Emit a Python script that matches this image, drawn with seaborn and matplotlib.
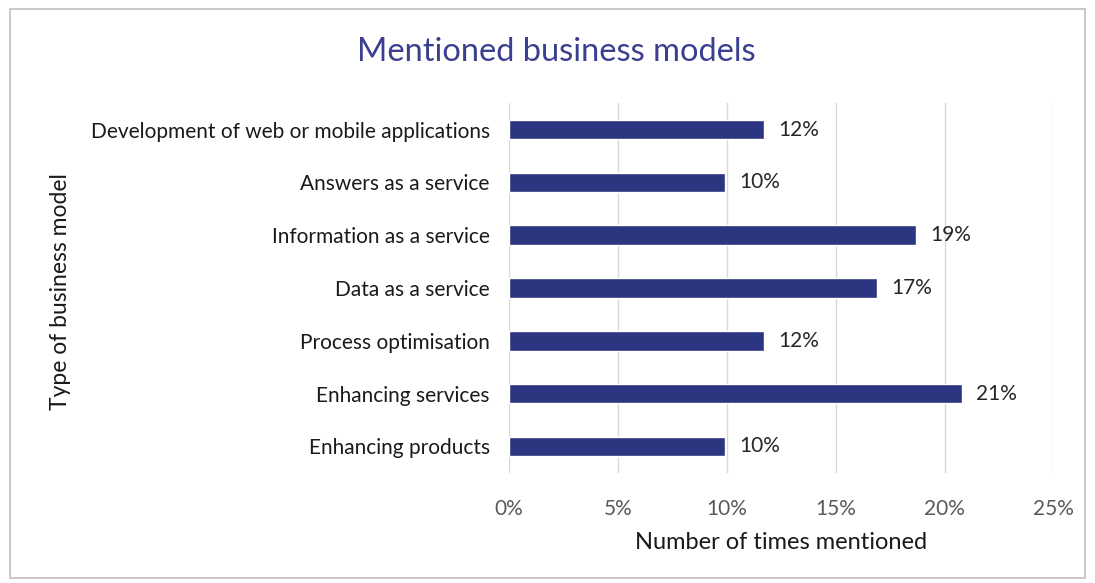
import matplotlib
matplotlib.use('Agg')
import matplotlib.pyplot as plt
import seaborn as sns
import pandas as pd
from matplotlib.patches import Rectangle
from matplotlib.ticker import PercentFormatter

# data (share of mentions, %)
models = ['Development of web or mobile applications', 'Answers as a service',
          'Information as a service', 'Data as a service', 'Process optimisation',
          'Enhancing services', 'Enhancing products']
shares = [11.7, 9.9, 18.7, 16.9, 11.7, 20.8, 9.9]

df = pd.DataFrame({'model': models, 'share': shares})

sns.set_style('white')
plt.rcParams['font.family'] = ['Lato', 'DejaVu Sans']

fig = plt.figure(figsize=(10.95, 5.83), dpi=100)
ax = fig.add_axes([0.465, 0.189, 0.497, 0.634])

sns.barplot(data=df, x='share', y='model', color='#2B3580', width=0.37,
            saturation=1, ax=ax)

# value labels
for i, v in enumerate(shares):
    ax.text(v + 0.65, i, '%d%%' % round(v), va='center', ha='left',
            fontsize=15, color='#262626')

ax.set_xlim(0, 25)
ax.set_ylim(6.5, -0.5)
ax.set_xticks([0, 5, 10, 15, 20, 25])
ax.xaxis.set_major_formatter(PercentFormatter(decimals=0))
ax.grid(axis='x', color='#D9D9D9', linewidth=1)
ax.set_axisbelow(True)
for s in ax.spines.values():
    s.set_visible(False)
ax.tick_params(axis='x', colors='#595959', labelsize=15, length=0, pad=19)
ax.tick_params(axis='y', colors='#1a1a1a', labelsize=15, length=0, pad=14)

ax.set_xlabel('Number of times mentioned', fontsize=17, color='#1a1a1a', labelpad=9)
ax.set_ylabel('')
fig.text(0.055, 0.5, 'Type of business model', rotation=90, va='center', ha='center',
         fontsize=16.5, color='#1a1a1a')

fig.text(0.508, 0.91, 'Mentioned business models', ha='center', va='center',
         fontsize=23.5, color='#3A3F8F')

# chart frame
fig.patches.append(Rectangle((0.009, 0.008), 0.982, 0.976, transform=fig.transFigure,
                             fill=False, edgecolor='#BFBFBF', linewidth=1.2))

fig.savefig('out.png', dpi=100)
